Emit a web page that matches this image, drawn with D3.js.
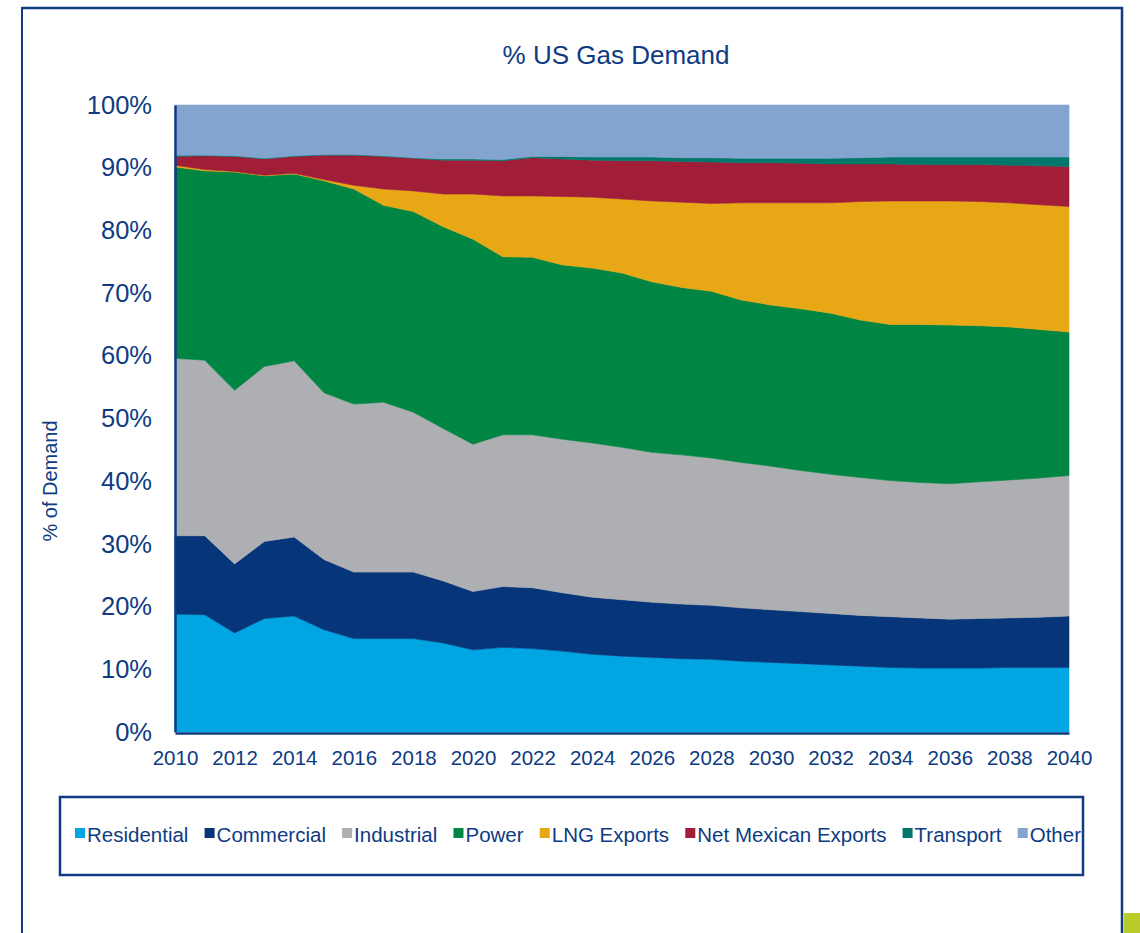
<!DOCTYPE html>
<html><head><meta charset="utf-8">
<script src="https://cdn.jsdelivr.net/npm/d3@7"></script>
<style>body{margin:0;background:#fff;} svg{display:block;}</style>
</head><body>
<svg id="chart" width="1140" height="933"></svg>
<script>
// ---- data (percent share of US gas demand) ----
const years = [2010,2011,2012,2013,2014,2015,2016,2017,2018,2019,2020,2021,2022,2023,2024,2025,2026,2027,2028,2029,2030,2031,2032,2033,2034,2035,2036,2037,2038,2039,2040];
const seriesNames = ["Residential","Commercial","Industrial","Power","LNG Exports","Net Mexican Exports","Transport","Other"];
const residential = [18.8,18.7,15.8,18.1,18.5,16.3,14.9,14.9,14.9,14.2,13.1,13.5,13.3,12.9,12.4,12.1,11.9,11.7,11.6,11.3,11.1,10.9,10.7,10.5,10.3,10.2,10.2,10.2,10.3,10.3,10.3];
const commercial  = [12.5,12.6,11.0,12.3,12.6,11.2,10.6,10.6,10.6,9.9,9.3,9.7,9.7,9.3,9.1,9.0,8.8,8.7,8.6,8.5,8.4,8.3,8.2,8.1,8.1,8.0,7.8,7.9,7.9,8.0,8.2];
const industrial  = [28.3,28.0,27.7,27.9,28.1,26.6,26.8,27.1,25.5,24.3,23.5,24.2,24.4,24.5,24.6,24.3,23.9,23.8,23.5,23.2,22.9,22.5,22.2,22.0,21.7,21.6,21.6,21.8,22.0,22.2,22.4];
const power       = [30.5,30.2,34.8,30.4,29.8,33.8,34.3,31.4,32.0,32.2,32.7,28.4,28.3,27.8,27.9,27.8,27.2,26.7,26.6,25.9,25.7,25.8,25.7,25.1,24.9,25.2,25.3,24.9,24.4,23.7,22.9];
const lngExports  = [0.3,0.2,0.1,0.1,0.1,0.2,0.6,2.6,3.3,5.2,7.2,9.7,9.8,10.9,11.3,11.8,12.9,13.6,14.0,15.5,16.3,16.9,17.6,18.9,19.7,19.7,19.8,19.8,19.8,19.9,20.0];
const netMexican  = [1.4,2.2,2.4,2.6,2.7,3.9,4.8,5.2,5.2,5.4,5.4,5.6,6.1,6.0,5.9,6.1,6.4,6.5,6.6,6.4,6.4,6.3,6.2,6.0,5.9,5.8,5.8,5.9,6.0,6.2,6.4];
const transport   = [0.2,0.1,0.1,0.1,0.1,0.1,0.1,0.1,0.1,0.2,0.2,0.2,0.2,0.4,0.5,0.6,0.6,0.6,0.7,0.7,0.7,0.8,0.9,1.0,1.1,1.2,1.2,1.2,1.3,1.4,1.5];
const other       = [8.0,8.0,8.1,8.5,8.1,7.9,7.9,8.1,8.4,8.6,8.6,8.7,8.2,8.2,8.3,8.3,8.3,8.4,8.4,8.5,8.5,8.5,8.5,8.4,8.3,8.3,8.3,8.3,8.3,8.3,8.3];
const xTickLabels = [2010,2012,2014,2016,2018,2020,2022,2024,2026,2028,2030,2032,2034,2036,2038,2040];
const yTickLabels = [0,0.1,0.2,0.3,0.4,0.5,0.6,0.7,0.8,0.9,1.0];

// ---- styling ----
const colors = ["#00A5E2","#06357A","#ADAFB2","#008542","#E8A714","#A11D38","#00776B","#83A4CF"];
const navy = "#0E3B82";
const font = "'Liberation Sans', Arial, sans-serif";

const seriesValues = [residential,commercial,industrial,power,lngExports,netMexican,transport,other];
const rows = years.map((yr,i) => {
  const r = {year: yr};
  seriesNames.forEach((k,j) => r[k] = seriesValues[j][i]);
  return r;
});

const svg = d3.select("#chart");
const W = 1140, H = 933;
const plot = {left:175, right:1069, top:105, bottom:732};

// outer frame
svg.append("rect").attr("x",0).attr("y",0).attr("width",W).attr("height",H).attr("fill","#fff");
svg.append("line").attr("x1",22).attr("x2",1123).attr("y1",8).attr("y2",8).attr("stroke",navy).attr("stroke-width",2.5);
svg.append("line").attr("x1",22).attr("x2",22).attr("y1",7).attr("y2",H).attr("stroke",navy).attr("stroke-width",2);
svg.append("line").attr("x1",1122).attr("x2",1122).attr("y1",7).attr("y2",H).attr("stroke",navy).attr("stroke-width",2.5);
svg.append("rect").attr("x",1124).attr("y",913).attr("width",16).attr("height",20).attr("fill","#BACB2C");

// title
svg.append("text").attr("x",616).attr("y",64).attr("text-anchor","middle")
  .attr("font-family",font).attr("font-size",26).attr("fill",navy).text("% US Gas Demand");

const x = d3.scaleLinear().domain([2010,2040]).range([plot.left,plot.right]);
const y = d3.scaleLinear().domain([0,1]).range([plot.bottom,plot.top]);

const stack = d3.stack().keys(seriesNames).offset(d3.stackOffsetExpand);
const layers = stack(rows);

const area = d3.area()
  .x(d => x(d.data.year))
  .y0(d => y(d[0]))
  .y1(d => y(d[1]));

svg.append("g").selectAll("path").data(layers).join("path")
  .attr("d", area)
  .attr("fill", (d,i) => colors[i])
  .attr("stroke", (d,i) => colors[i])
  .attr("stroke-width", 0.6)
  .attr("stroke-linejoin","round");

// axes
const yAxis = d3.axisLeft(y).tickValues(yTickLabels).tickFormat(d3.format(".0%")).tickSize(0).tickPadding(23);
const gy = svg.append("g").attr("transform",`translate(${plot.left},0)`).call(yAxis);
gy.select(".domain").attr("stroke",navy).attr("stroke-width",2.5);
gy.selectAll("text").attr("font-family",font).attr("font-size",25.5).attr("fill",navy);

const xAxis = d3.axisBottom(x).tickValues(xTickLabels).tickFormat(d3.format("d")).tickSize(0).tickPadding(17);
const gx = svg.append("g").attr("transform",`translate(0,${plot.bottom+1})`).call(xAxis);
gx.select(".domain").attr("stroke",navy).attr("stroke-width",2.5);
gx.selectAll("text").attr("font-family",font).attr("font-size",20.5).attr("fill",navy);

// y axis title
svg.append("text").attr("transform","translate(57,481) rotate(-90)").attr("text-anchor","middle")
  .attr("font-family",font).attr("font-size",20).attr("fill",navy).text("% of Demand");

// legend
svg.append("rect").attr("x",60).attr("y",797).attr("width",1023).attr("height",78)
  .attr("fill","#fff").attr("stroke",navy).attr("stroke-width",2.5);
const lg = svg.append("g");
const items = lg.selectAll("g").data(seriesNames).join("g");
items.append("rect").attr("width",10).attr("height",10).attr("y",-14).attr("fill",(d,i)=>colors[i]);
items.append("text").attr("x",12).attr("y",0).attr("font-family",font).attr("font-size",20.5)
  .attr("fill",navy).text(d=>d);
const widths = [];
items.each(function(){ widths.push(12 + d3.select(this).select("text").node().getComputedTextLength()); });
const spanStart = 75, spanEnd = 1081;
const gap = (spanEnd - spanStart - d3.sum(widths)) / (widths.length - 1);
let cx = spanStart;
items.each(function(d,i){
  d3.select(this).attr("transform",`translate(${cx},842)`);
  cx += widths[i] + gap;
});
</script>
</body></html>
